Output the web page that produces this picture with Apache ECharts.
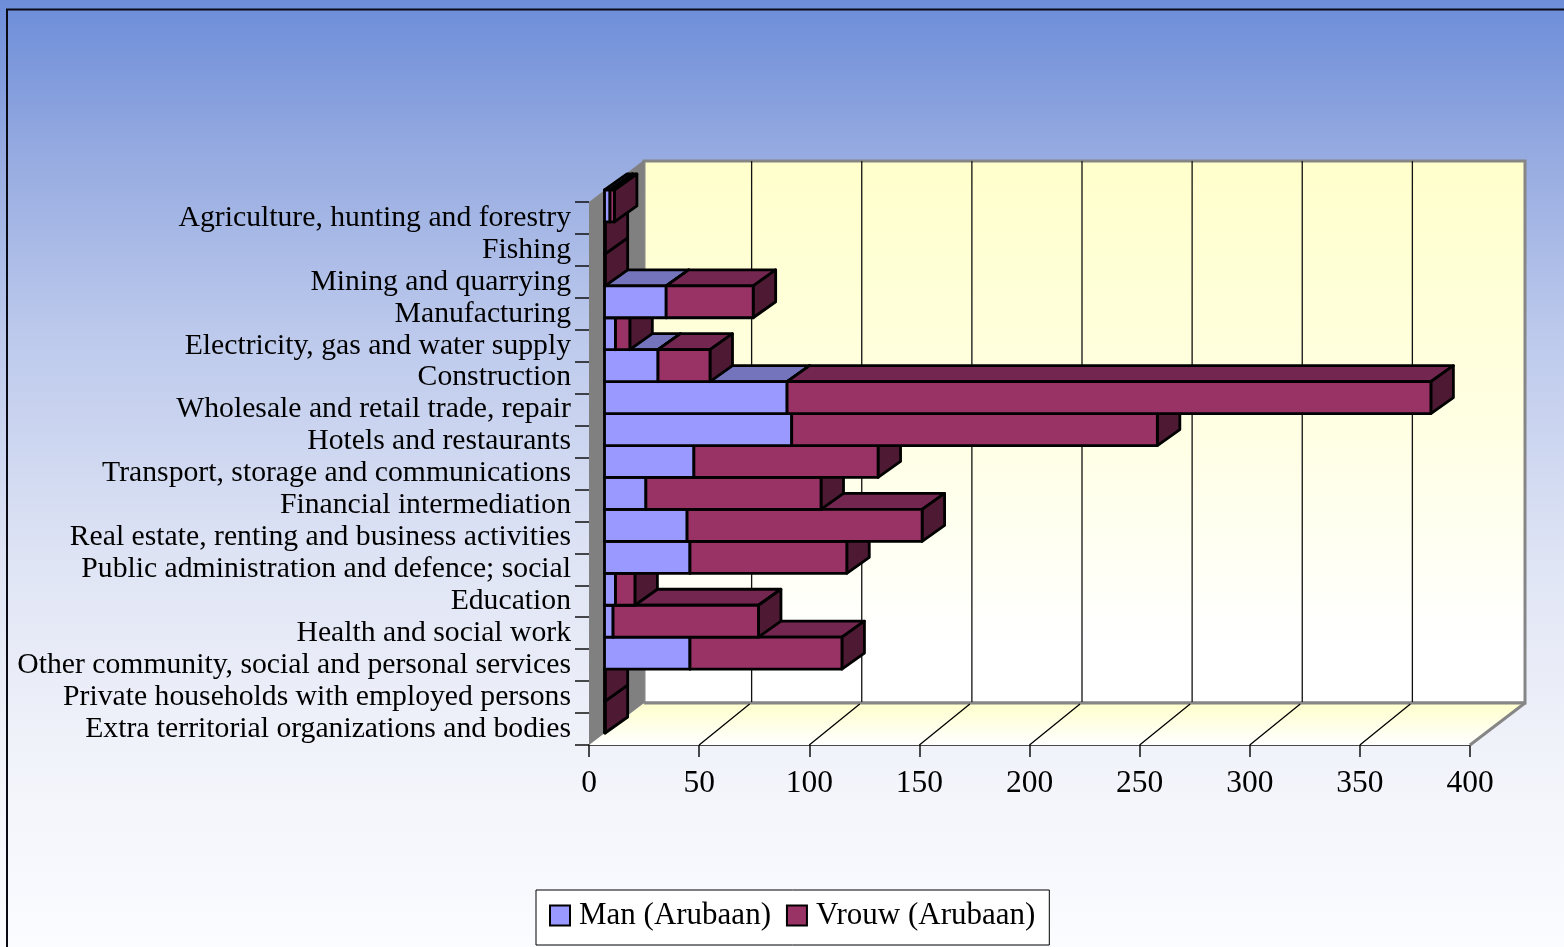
<!DOCTYPE html>
<html><head><meta charset="utf-8">
<style>html,body{margin:0;padding:0;background:#fff}#c{width:1564px;height:947px}</style>
<script src="https://cdn.jsdelivr.net/npm/echarts@6/dist/echarts.min.js"></script>
</head><body><div id="c"></div>
<script>
const categories = ["Agriculture, hunting and forestry","Fishing","Mining and quarrying","Manufacturing","Electricity, gas and water supply","Construction","Wholesale and retail trade, repair","Hotels and restaurants","Transport, storage and communications","Financial intermediation","Real estate, renting and business activities","Public administration and defence; social","Education","Health and social work","Other community, social and personal services","Private households with employed persons","Extra territorial organizations and bodies"];
const man   = [2.5,0,0,28,5,24.3,82.9,85,40.6,18.8,37.5,38.8,5,3.9,38.8,0,0];
const vrouw = [2,0.3,0.3,39.5,6.5,23.6,292.3,166,83.6,79.5,106.7,71.2,8.8,66,69,0.3,0.3];
const xTicks = [0,50,100,150,200,250,300,350,400];

const FONT = '"Liberation Serif","Times New Roman",serif';
const WALL = {dx:55, dy:42}, GRID_DX = 52.5;
const BAR = {fx:15.5, fy:12, dx:22.5, dy:16};
const chart = echarts.init(document.getElementById('c'), null, {renderer:'canvas'});

function poly(points, fill, stroke, lw, z2){
  return {type:'polygon', shape:{points}, z2,
    style:{fill, stroke, lineWidth:lw, lineJoin:'round'}};
}
function renderBar(colors, layer){
  return function(params, api){
    const a = api.value(0), b = api.value(1), cat = api.value(2);
    if (b <= a) return null;
    const p0 = api.coord([a,cat]), p1 = api.coord([b,cat]);
    const h = api.size([0,1])[1];
    const x0 = p0[0]+BAR.fx, x1 = p1[0]+BAR.fx;
    const yT = p0[1]-h/2-BAR.fy, yB = yT+h;
    const z = (categories.length-cat)*4+layer*2;
    const k = 2.8;
    return {type:'group', children:[
      poly([[x0,yT],[x1,yT],[x1+BAR.dx,yT-BAR.dy],[x0+BAR.dx,yT-BAR.dy]], colors[1], '#000', k, z),
      poly([[x1,yT],[x1+BAR.dx,yT-BAR.dy],[x1+BAR.dx,yB-BAR.dy],[x1,yB]], colors[2], '#000', k, z),
      poly([[x0,yT],[x1,yT],[x1,yB],[x0,yB]], colors[0], '#000', k, z+1)
    ]};
  };
}
function renderWalls(params, api){
  const g = params.coordSys;
  const L=g.x, R=g.x+g.width, T=g.y, B=g.y+g.height, dx=WALL.dx, dy=WALL.dy;
  const grey='#868686';
  const kids = [
    {type:'polygon', z2:1, shape:{points:[[L+dx,T-dy+1],[R+dx,T-dy+1],[R+dx,B-dy],[L+dx,B-dy]]},
      style:{fill:new echarts.graphic.LinearGradient(0,0,0,1,[{offset:0,color:'#FFFFCC'},{offset:0.5,color:'#FFFFE4'},{offset:0.88,color:'#FFFFFF'},{offset:1,color:'#FFFFFF'}]),stroke:grey,lineWidth:3}},
    {type:'polygon', z2:2, shape:{points:[[L,B],[L+dx,B-dy],[R+dx,B-dy],[R,B]]},
      style:{fill:new echarts.graphic.LinearGradient(0,0,0,1,[{offset:0,color:'#FFFFCC'},{offset:1,color:'#FFFFFF'}])}},
    {type:'polygon', z2:3, shape:{points:[[L,T],[L+dx,T-dy],[L+dx,B-dy],[L,B]]}, style:{fill:'#808080'}},
    {type:'line', z2:3, shape:{x1:L+dx,y1:B-dy,x2:R+dx,y2:B-dy}, style:{stroke:grey,lineWidth:3}},
    {type:'line', z2:3, shape:{x1:R,y1:B,x2:R+dx,y2:B-dy}, style:{stroke:grey,lineWidth:3}}
  ];
  xTicks.slice(1,-1).forEach(t=>{
    const x = api.coord([t,0])[0];
    kids.push({type:'line', z2:4, shape:{x1:x+GRID_DX,y1:T-dy+1,x2:x+GRID_DX,y2:B-dy-1}, style:{stroke:'#111',lineWidth:1.3}});
    kids.push({type:'line', z2:4, shape:{x1:x,y1:B,x2:x+GRID_DX-2,y2:B-dy+1}, style:{stroke:'#000',lineWidth:1.3}});
  });
  return {type:'group', children:kids};
}

chart.setOption({
  animation:false,
  backgroundColor:new echarts.graphic.LinearGradient(0,0,0,1,[
    {offset:0,color:'#6C8DD9'},{offset:0.16,color:'#95AAE0'},{offset:0.35,color:'#BCC9EC'},
    {offset:0.6,color:'#E0E5F5'},{offset:0.8,color:'#F1F3FA'},{offset:1,color:'#FBFCFF'}]),
  graphic:[{type:'polyline', shape:{points:[[7,960],[7,9.5],[1580,9.5]]}, style:{fill:null,stroke:'#0A0A14',lineWidth:2}, z:0}],
  grid:{left:589, right:94, top:202, bottom:202, containLabel:false},
  xAxis:{type:'value', min:0, max:400, interval:50, z:1,
    axisLine:{show:true,lineStyle:{color:'#111',width:1.5}},
    axisTick:{show:true,length:12,lineStyle:{color:'#111',width:1.5}},
    splitLine:{show:false},
    axisLabel:{color:'#000',fontFamily:FONT,fontSize:31.5,margin:23,hideOverlap:false}},
  yAxis:{type:'category', inverse:true, data:categories, z:1,
    axisLine:{show:false},
    axisTick:{show:true,length:14,lineStyle:{color:'#111',width:1.5}},
    splitLine:{show:false},
    axisLabel:{color:'#000',fontFamily:FONT,fontSize:29.7,margin:18,interval:0,padding:[0,0,6,0]}},
  legend:{left:536, top:890, orient:'horizontal', data:['Man (Arubaan)','Vrouw (Arubaan)'], icon:'rect',
    itemWidth:20,itemHeight:20,itemGap:15,padding:[10,14,14,13],
    backgroundColor:'#fff',borderColor:'#000',borderWidth:1,
    itemStyle:{borderColor:'#000',borderWidth:2},
    textStyle:{color:'#000',fontFamily:FONT,fontSize:31,padding:[0,0,0,4]}},
  series:[
    {type:'custom', name:'walls', silent:true, z:1, data:[[0]], renderItem:renderWalls},
    {type:'custom', name:'Man (Arubaan)', silent:true, z:2, itemStyle:{color:'#9999FF'},
      encode:{x:[0,1],y:2}, renderItem:renderBar(['#9999FF','#7474BD','#5B5BA0'],0),
      data:man.map((v,i)=>[0,v,i])},
    {type:'custom', name:'Vrouw (Arubaan)', silent:true, z:2, itemStyle:{color:'#993366'},
      encode:{x:[0,1],y:2}, renderItem:renderBar(['#993366','#732650','#4D1933'],1),
      data:vrouw.map((v,i)=>[man[i],man[i]+v,i])}
  ]
});
</script></body></html>
